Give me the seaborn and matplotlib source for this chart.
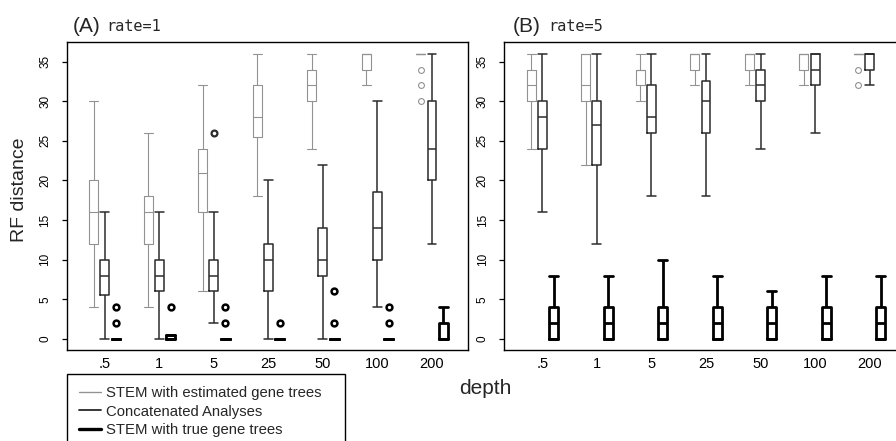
import matplotlib
matplotlib.use("Agg")
import matplotlib.pyplot as plt
from matplotlib.lines import Line2D
import pandas as pd
import seaborn as sns

depths = [".5", "1", "5", "25", "50", "100", "200"]
methods = ["STEM with estimated gene trees", "Concatenated Analyses", "STEM with true gene trees"]

# box summaries: (low whisker, q1, median, q3, high whisker) per depth
a_stem_est = [(4, 12, 16, 20, 30), (4, 12, 16, 18, 26), (6, 16, 21, 24, 32), (18, 25.5, 28, 32, 36),
              (24, 30, 32, 34, 36), (32, 34, 36, 36, 36), (36, 36, 36, 36, 36)]
a_stem_est_out = [[], [], [], [], [], [], [30, 32, 34]]
a_concat = [(0, 5.5, 8, 10, 16), (0, 6, 8, 10, 16), (2, 6, 8, 10, 16), (0, 6, 10, 12, 20),
            (0, 8, 10, 14, 22), (4, 10, 14, 18.5, 30), (12, 20, 24, 30, 36)]
a_concat_out = [[], [], [26], [], [], [], []]
a_stem_true = [(0, 0, 0, 0, 0), (0, 0, 0, 0.5, 0.5), (0, 0, 0, 0, 0), (0, 0, 0, 0, 0),
               (0, 0, 0, 0, 0), (0, 0, 0, 0, 0), (0, 0, 0, 2, 4)]
a_stem_true_out = [[2, 4], [4], [2, 4], [2], [2, 6], [2, 4], []]

b_stem_est = [(24, 30, 32, 34, 36), (22, 30, 32, 36, 36), (30, 32, 34, 34, 36), (32, 34, 36, 36, 36),
              (32, 34, 36, 36, 36), (32, 34, 36, 36, 36), (36, 36, 36, 36, 36)]
b_stem_est_out = [[], [], [], [], [], [], [32, 34]]
b_concat = [(16, 24, 28, 30, 36), (12, 22, 27, 30, 36), (18, 26, 28, 32, 36), (18, 26, 30, 32.5, 36),
            (24, 30, 32, 34, 36), (26, 32, 34, 36, 36), (32, 34, 36, 36, 36)]
b_concat_out = [[], [], [], [], [], [], []]
b_stem_true = [(0, 0, 2, 4, 8), (0, 0, 2, 4, 8), (0, 0, 2, 4, 10), (0, 0, 2, 4, 8),
               (0, 0, 2, 4, 6), (0, 0, 2, 4, 8), (0, 0, 2, 4, 8)]
b_stem_true_out = [[], [], [], [], [], [], []]

colors = {methods[0]: "#929292", methods[1]: "#2b2b2b", methods[2]: "#000000"}
widths = {methods[0]: 0.8, methods[1]: 1.1, methods[2]: 2.0}
edge_w = {methods[0]: 0.8, methods[1]: 1.6, methods[2]: 1.8}


def expand(stats, outliers):
    # rebuild a sample whose quartiles / whiskers match the read summary
    lo, q1, med, q3, hi = stats
    return [lo] + [q1] * 20 + [med] * 20 + [q3] * 20 + [hi] + list(outliers)


def build(panel):
    rows = []
    for m, (summ, outs) in zip(methods, panel):
        for d, s, o in zip(depths, summ, outs):
            for v in expand(s, o):
                rows.append({"depth": d, "method": m, "value": v})
    return pd.DataFrame(rows)


df_a = build([(a_stem_est, a_stem_est_out), (a_concat, a_concat_out), (a_stem_true, a_stem_true_out)])
df_b = build([(b_stem_est, b_stem_est_out), (b_concat, b_concat_out), (b_stem_true, b_stem_true_out)])

sns.set_style("white")
plt.rcParams["font.family"] = ["Liberation Sans", "DejaVu Sans"]

fig = plt.figure(figsize=(8.96, 4.41), dpi=100)
ax_a = fig.add_axes([0.0744, 0.2057, 0.4479, 0.6984])
ax_b = fig.add_axes([0.5628, 0.2057, 0.4479, 0.6984])

box_w = 0.615 / 3 * (1 - 0.2)

for ax, df in [(ax_a, df_a), (ax_b, df_b)]:
    for m in methods:
        sns.boxplot(data=df[df["method"] == m], x="depth", y="value", hue="method",
                    order=depths, hue_order=methods, palette=colors, dodge=True,
                    width=0.615, gap=0.2, fill=False, linewidth=widths[m],
                    legend=False, ax=ax,
                    flierprops=dict(marker="o", markersize=4.2, markerfacecolor="none",
                                    markeredgecolor=colors[m], markeredgewidth=edge_w[m]))
    # R style caps: as wide as the box
    for ln in ax.lines:
        x = ln.get_xdata()
        y = ln.get_ydata()
        if len(x) == 2 and y[0] == y[1] and x[0] != x[1] and abs(x[1] - x[0]) < 0.9 * box_w:
            c = (x[0] + x[1]) / 2
            ln.set_xdata([c - box_w / 2, c + box_w / 2])

    ax.set_xlim(-0.70, 6.66)
    ax.set_ylim(-1.44, 37.44)
    ax.set_yticks(range(0, 36, 5))
    ax.set_xlabel("")
    ax.set_ylabel("")
    for sp in ax.spines.values():
        sp.set_visible(True)
        sp.set_color("black")
        sp.set_linewidth(1.0)
    ax.tick_params(axis="x", length=0, pad=5, labelsize=10.5, colors="black")
    ax.tick_params(axis="y", left=True, length=3.6, width=0.9, pad=7.5, labelsize=8.5,
                   labelrotation=90, colors="black")
    for t in ax.get_yticklabels():
        t.set_va("center")

fig.text(0.0811, 1 - 32 / 441, "(A)", fontsize=15, va="baseline")
fig.text(0.1183, 1 - 31 / 441, "rate=1", fontsize=11, family="DejaVu Sans Mono", va="baseline")
fig.text(0.5722, 1 - 32 / 441, "(B)", fontsize=15, va="baseline")
fig.text(0.6116, 1 - 31 / 441, "rate=5", fontsize=11, family="DejaVu Sans Mono", va="baseline")

fig.text(20 / 896, 1 - 190 / 441, "RF distance", rotation=90, fontsize=14, ha="center", va="center")
fig.text(485 / 896, 1 - 388 / 441, "depth", fontsize=15, ha="center", va="center")

handles = [Line2D([], [], color=colors[m], lw=widths[m] * 1.2) for m in methods]
leg = fig.legend(handles, methods, loc="upper left",
                 bbox_to_anchor=(67 / 896, 1 - 374 / 441 - 0.2, (345 - 67) / 896, 0.2),
                 mode="expand", frameon=True, fancybox=False, edgecolor="black", framealpha=1,
                 fontsize=10.75, handlelength=1.45, handletextpad=0.3, labelspacing=0.28,
                 borderpad=0.83, borderaxespad=0)
leg.get_frame().set_linewidth(1.0)

fig.savefig("out.png", dpi=100)
